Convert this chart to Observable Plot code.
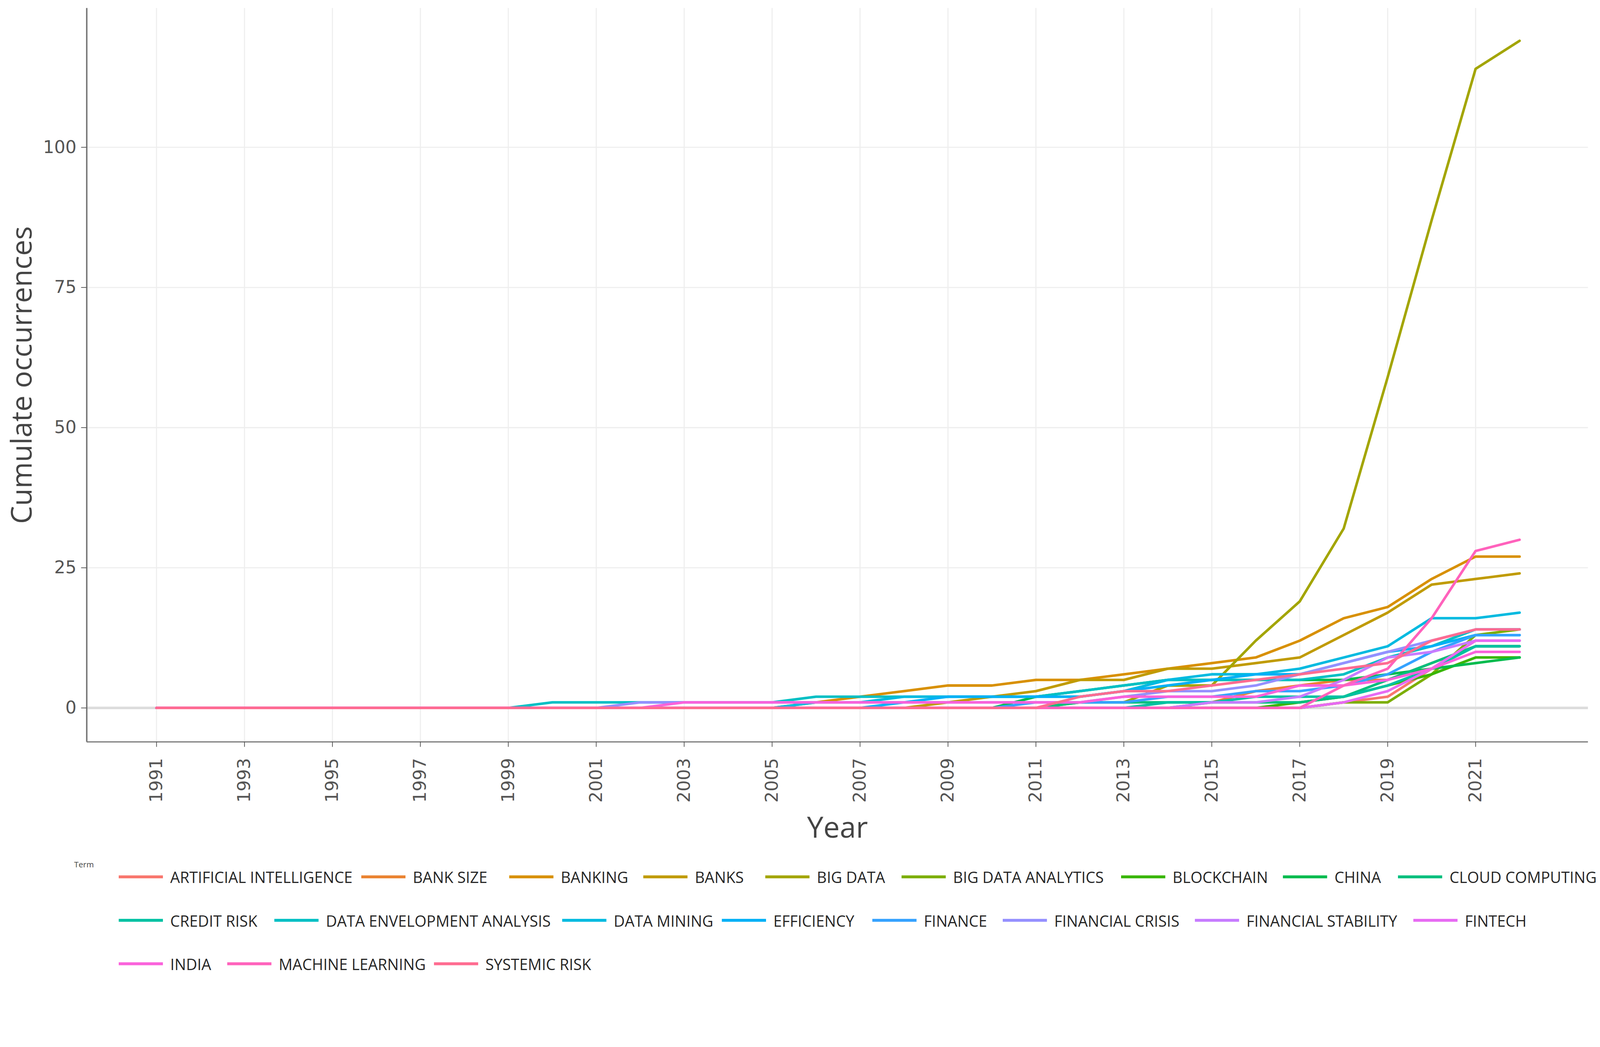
<!DOCTYPE html>
<html>
<head>
<meta charset="utf-8">
<script src="https://cdn.jsdelivr.net/npm/d3@7"></script>
<script src="https://cdn.jsdelivr.net/npm/@observablehq/plot@0.6"></script>
<style>
  html, body { margin: 0; padding: 0; background: #ffffff; overflow: hidden; }
  #page { width: 4380px; height: 2681px; transform-origin: 0 0; position: relative; background: #ffffff; }
  #chart { width: 4380px; }
  #chart svg { max-width: none !important; }
  #legend { position: relative; width: 4380px; height: 351px; font-family: "Open Sans", sans-serif; }
  .item { position: absolute; display: flex; align-items: center; height: 60px; white-space: nowrap; }
  .swatch { display: inline-block; width: 121px; height: 8px; margin-right: 20px; }
  .label { font-size: 42px; color: #262626; }
  .ltitle { position: absolute; font-size: 22px; color: #444444; }
</style>
</head>
<body>
<div id="page">
  <div id="chart"></div>
  <div id="legend"></div>
</div>
<script>
// ---------------- DATA ----------------
const years = [1991,1992,1993,1994,1995,1996,1997,1998,1999,2000,2001,2002,2003,2004,2005,2006,
               2007,2008,2009,2010,2011,2012,2013,2014,2015,2016,2017,2018,2019,2020,2021,2022];

const terms = ["ARTIFICIAL INTELLIGENCE","BANK SIZE","BANKING","BANKS","BIG DATA","BIG DATA ANALYTICS",
  "BLOCKCHAIN","CHINA","CLOUD COMPUTING","CREDIT RISK","DATA ENVELOPMENT ANALYSIS","DATA MINING",
  "EFFICIENCY","FINANCE","FINANCIAL CRISIS","FINANCIAL STABILITY","FINTECH","INDIA","MACHINE LEARNING","SYSTEMIC RISK"];

const artificialIntelligence = [0,0,0,0,0,0,0,0,0,0,0,0,0,0,0,0,0,0,0,0,0,0,0,0,0,0,0,1,2,7,12,12];
const bankSize               = [0,0,0,0,0,0,0,0,0,0,0,0,0,0,0,0,0,0,0,0,0,0,0,0,1,3,4,5,5,8,11,11];
const banking                = [0,0,0,0,0,0,0,0,0,0,0,0,0,0,0,1,2,3,4,4,5,5,6,7,8,9,12,16,18,23,27,27];
const banks                  = [0,0,0,0,0,0,0,0,0,0,0,0,0,0,0,0,0,0,1,2,3,5,5,7,7,8,9,13,17,22,23,24];
const bigData                = [0,0,0,0,0,0,0,0,0,0,0,0,0,0,0,0,0,0,0,0,0,1,1,4,4,12,19,32,59,87,114,119];
const bigDataAnalytics       = [0,0,0,0,0,0,0,0,0,0,0,0,0,0,0,0,0,0,0,0,0,0,0,0,0,0,0,1,1,6,13,14];
const blockchain             = [0,0,0,0,0,0,0,0,0,0,0,0,0,0,0,0,0,0,0,0,0,0,0,0,0,0,1,2,4,6,9,9];
const china                  = [0,0,0,0,0,0,0,0,0,0,0,0,0,0,0,0,0,0,0,0,2,3,4,5,5,5,5,5,6,7,8,9];
const cloudComputing         = [0,0,0,0,0,0,0,0,0,0,0,0,0,0,0,0,0,0,0,0,0,1,1,1,1,1,1,2,5,8,11,11];
const creditRisk             = [0,0,0,0,0,0,0,0,0,0,0,0,0,0,0,0,0,0,0,0,0,0,0,1,1,2,2,2,4,7,11,11];
const dataEnvelopment        = [0,0,0,0,0,0,0,0,0,1,1,1,1,1,1,2,2,2,2,2,2,3,4,5,5,5,5,6,9,11,14,14];
const dataMining             = [0,0,0,0,0,0,0,0,0,0,0,0,0,0,0,1,1,2,2,2,2,2,3,5,6,6,7,9,11,16,16,17];
const efficiency             = [0,0,0,0,0,0,0,0,0,0,0,0,0,0,0,0,0,1,2,2,2,2,3,4,5,6,6,8,10,11,13,13];
const finance                = [0,0,0,0,0,0,0,0,0,0,0,0,0,0,0,0,0,0,0,0,1,1,1,2,2,3,3,4,6,10,13,13];
const financialCrisis        = [0,0,0,0,0,0,0,0,0,0,0,1,1,1,1,1,1,1,1,1,1,1,2,3,3,4,6,8,10,12,14,14];
const financialStability     = [0,0,0,0,0,0,0,0,0,0,0,0,0,0,0,0,0,0,0,0,0,0,0,0,1,1,2,5,9,10,12,12];
const fintech                = [0,0,0,0,0,0,0,0,0,0,0,0,0,0,0,0,0,0,0,0,0,0,0,0,0,0,0,1,3,7,12,12];
const india                  = [0,0,0,0,0,0,0,0,0,0,0,0,1,1,1,1,1,1,1,1,1,1,2,2,2,2,4,4,5,7,10,10];
const machineLearning        = [0,0,0,0,0,0,0,0,0,0,0,0,0,0,0,0,0,0,0,0,0,0,0,0,0,0,0,4,7,16,28,30];
const systemicRisk           = [0,0,0,0,0,0,0,0,0,0,0,0,0,0,0,0,0,0,0,0,0,2,3,3,4,5,6,7,8,12,14,14];

const xTickYears = [1991,1993,1995,1997,1999,2001,2003,2005,2007,2009,2011,2013,2015,2017,2019,2021];
const yTicks = [0, 25, 50, 75, 100];

// ---------------- STYLE ----------------
const palette = ["#F8766D","#EA8331","#D89000","#C09B00","#A3A500","#7CAE00","#39B600","#00BB4E","#00BF7D","#00C1A3",
                 "#00BFC4","#00BAE0","#00B0F6","#35A2FF","#9590FF","#C77CFF","#E76BF3","#FA62DB","#FF62BC","#FF6C91"];

const seriesList = [artificialIntelligence, bankSize, banking, banks, bigData, bigDataAnalytics, blockchain, china,
  cloudComputing, creditRisk, dataEnvelopment, dataMining, efficiency, finance, financialCrisis, financialStability,
  fintech, india, machineLearning, systemicRisk];

const rows = terms.flatMap((term, i) => years.map((year, j) => ({term, year, value: seriesList[i][j]})));

const PAGE_W = 4380, PAGE_H = 2681;
const W = 4380, H = 2330;
const frameLeft = 237, frameRight = 4347, frameTop = 22, frameBottom = 2031;
const xDomain = [1989.413, 2023.559];
const yDomain = [-6.06, 124.81];
const fontFamily = "'Open Sans', sans-serif";
const tickFont = "'DejaVu Sans', sans-serif";

const chart = Plot.plot({
  width: W,
  height: H,
  marginLeft: frameLeft,
  marginRight: W - frameRight,
  marginTop: frameTop,
  marginBottom: H - frameBottom,
  x: {domain: xDomain},
  y: {domain: yDomain},
  color: {domain: terms, range: palette},
  style: {fontFamily, background: "#ffffff", overflow: "visible"},
  marks: [
    Plot.gridX(xTickYears, {stroke: "#eeeeee", strokeOpacity: 1, strokeWidth: 3}),
    Plot.gridY([25, 50, 75, 100], {stroke: "#eeeeee", strokeOpacity: 1, strokeWidth: 3}),
    Plot.ruleY([0], {stroke: "#dcdcdc", strokeWidth: 7}),
    Plot.line(rows, {x: "year", y: "value", z: "term", stroke: "term", strokeWidth: 7, strokeLinejoin: "round", strokeLinecap: "round"}),
    Plot.ruleX([xDomain[0]], {y1: yDomain[0], y2: yDomain[1], stroke: "#777777", strokeWidth: 4}),
    Plot.ruleY([yDomain[0]], {x1: xDomain[0], x2: xDomain[1], stroke: "#777777", strokeWidth: 3}),
    Plot.axisY(yTicks, {anchor: "left", tickSize: 15, tickPadding: 13, fontSize: 48, fontFamily: tickFont,
      color: "#555555", strokeWidth: 2, label: null}),
    Plot.axisX(xTickYears, {anchor: "bottom", tickSize: 14, tickPadding: 30, tickRotate: -90, fontSize: 48,
      fontFamily: tickFont, color: "#555555", strokeWidth: 2, tickFormat: d => String(d), label: null}),
    Plot.text(["Cumulate occurrences"], {frameAnchor: "left", dx: -176, rotate: -90, text: d => d,
      fontSize: 78, fill: "#444444", textAnchor: "middle", lineAnchor: "middle"}),
    Plot.text(["Year"], {frameAnchor: "bottom", dy: 237, text: d => d,
      fontSize: 80, fill: "#444444", textAnchor: "middle", lineAnchor: "middle"})
  ]
});
document.getElementById("chart").appendChild(chart);

// ---------------- LEGEND ----------------
const legendRows = [
  {y: 2401, x: [325, 989, 1394, 1761, 2095, 2468, 3069, 3512, 3827]},
  {y: 2520, x: [325, 751, 1539, 1976, 2388, 2745, 3271, 3869]},
  {y: 2639, x: [325, 622, 1188]}
];
const legend = document.getElementById("legend");
const title = document.createElement("div");
title.className = "ltitle";
title.textContent = "Term";
title.style.left = "203px";
title.style.top = (2366 - H - 15) + "px";
legend.appendChild(title);
let k = 0;
legendRows.forEach(row => {
  row.x.forEach(x => {
    const item = document.createElement("div");
    item.className = "item";
    item.style.left = x + "px";
    item.style.top = (row.y - H - 30) + "px";
    const sw = document.createElement("span");
    sw.className = "swatch";
    sw.style.background = palette[k];
    const lb = document.createElement("span");
    lb.className = "label";
    lb.textContent = terms[k];
    item.appendChild(sw);
    item.appendChild(lb);
    legend.appendChild(item);
    k++;
  });
});

// fit the 4380x2681 page into the actual viewport
function fit() {
  const s = Math.min(window.innerWidth / PAGE_W, window.innerHeight / PAGE_H);
  document.getElementById("page").style.transform = `scale(${s})`;
}
fit();
window.addEventListener("resize", fit);
</script>
</body>
</html>
